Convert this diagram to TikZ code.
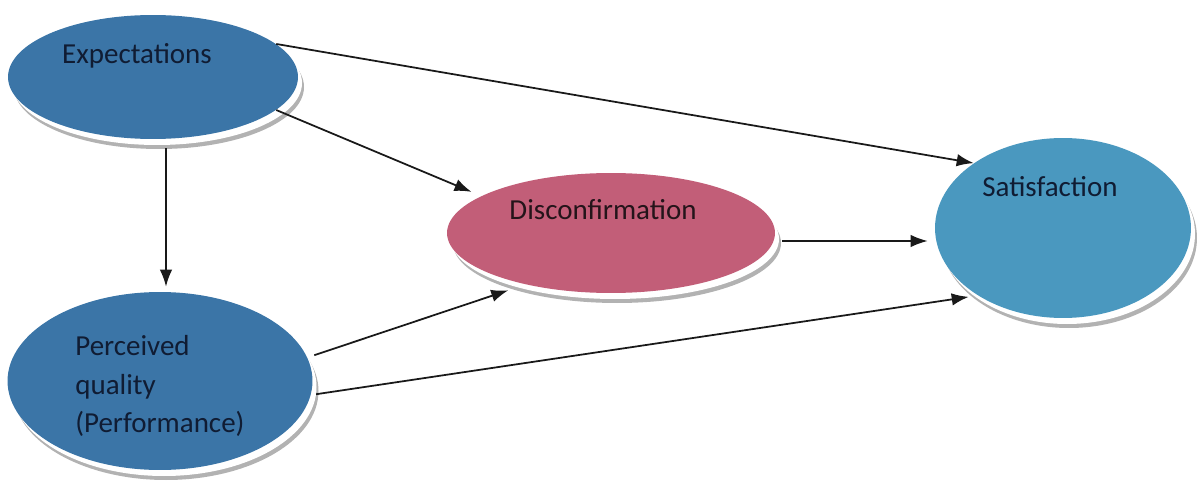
\documentclass[tikz,border=0pt]{standalone}
\usepackage{fontspec}
\setmainfont{Carlito}
\usetikzlibrary{shapes.geometric,arrows.meta}
\definecolor{blueA}{HTML}{3B75A7}
\definecolor{blueB}{HTML}{4A98BF}
\definecolor{roseA}{HTML}{C25E78}
\definecolor{txtA}{HTML}{101C33}
\definecolor{txtB}{HTML}{24141A}
\tikzset{
  oval/.style={ellipse,inner sep=0pt,draw=none},
  rimgray/.style={oval,fill=gray!60},
  rimwhite/.style={oval,fill=white},
  lbl/.style={font=\fontsize{16.5}{22}\selectfont,inner sep=0pt},
  arr/.style={-{Latex[length=3.4mm,width=2.5mm]},line width=1pt,black!90}
}
\begin{document}
\begin{tikzpicture}[x=0.02cm,y=-0.02cm]
\useasboundingbox (0,0) rectangle (1198,483);
% shadows / rims
\foreach \cx/\cy/\w/\h in {153/77/290/124, 160/381/305/178, 611/233/328/120, 1063/228/256/180}{
  \node[rimgray,minimum width=\w*0.02cm,minimum height=\h*0.02cm] at (\cx+6,\cy+10) {};
  \node[rimwhite,minimum width=\w*0.02cm,minimum height=\h*0.02cm] at (\cx+4,\cy+6) {};
}
% main ellipses
\node[oval,fill=blueA,minimum width=5.8cm,minimum height=2.48cm] (exp) at (153,77) {};
\node[oval,fill=blueA,minimum width=6.1cm,minimum height=3.56cm] (per) at (160,381) {};
\node[oval,fill=roseA,minimum width=6.56cm,minimum height=2.4cm] (dis) at (611,233) {};
\node[oval,fill=blueB,minimum width=5.12cm,minimum height=3.6cm] (sat) at (1063,228) {};
% labels
\node[lbl,text=txtA] (expt) at (137,56) {Expectations};
\node[lbl,text=txtA,anchor=west,align=left] (pert) at (75,386) {Perceived\\quality\\(Performance)};
\node[lbl,text=txtB] (dist) at (603,210) {Disconfirmation};
\node[lbl,text=txtA] (satt) at (1050,187) {Satisfaction};
% connectors
\draw[arr] (exp.15) -- (sat.144);
\draw[arr] (exp.-15) -- ([shift={(-10,-4)}]dis.164);
\draw[arr] ([shift={(0,9)}]exp.south -| per.north) ++(6,0) -- ([shift={(6,-5)}]per.north);
\draw[arr] ([shift={(7,8)}]dis.east) -- ([shift={(-7,13)}]sat.west);
\draw[arr] ([shift={(8,0)}]per.10) -- ([shift={(-12,7)}]dis.209);
\draw[arr] ([shift={(5,0)}]per.-5) -- ([shift={(-5,4)}]sat.216);
\end{tikzpicture}
\end{document}
